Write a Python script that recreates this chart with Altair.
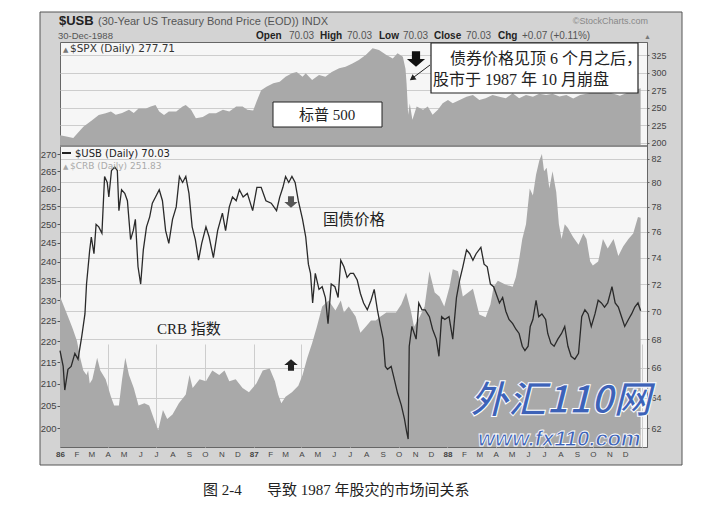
import pandas as pd
import altair as alt

# ---------------------------------------------------------------
# values (1986 - 1988)
# ---------------------------------------------------------------

# S&P 500, top panel (area)
spx_dates = ['1986-01-01', '1986-01-13', '1986-01-26', '1986-02-14', '1986-03-03', '1986-03-15',
             '1986-03-28', '1986-04-07', '1986-04-16', '1986-04-28', '1986-05-11', '1986-05-20',
             '1986-05-29', '1986-06-12', '1986-06-21', '1986-06-30', '1986-07-07', '1986-07-16',
             '1986-07-25', '1986-08-08', '1986-08-20', '1986-08-26', '1986-09-05', '1986-09-14',
             '1986-09-27', '1986-10-09', '1986-10-22', '1986-11-04', '1986-11-16', '1986-11-29',
             '1986-12-11', '1986-12-20', '1986-12-31', '1987-01-06', '1987-01-15', '1987-01-25',
             '1987-02-07', '1987-02-19', '1987-03-02', '1987-03-14', '1987-03-23', '1987-04-03',
             '1987-04-09', '1987-04-21', '1987-05-04', '1987-05-16', '1987-05-28', '1987-06-11',
             '1987-06-23', '1987-07-06', '1987-07-18', '1987-07-31', '1987-08-13', '1987-08-25',
             '1987-09-08', '1987-09-20', '1987-09-29', '1987-10-09', '1987-10-14', '1987-10-16',
             '1987-10-19', '1987-10-22', '1987-10-27', '1987-11-04', '1987-11-16', '1987-11-25',
             '1987-12-04', '1987-12-14', '1987-12-23', '1988-01-02', '1988-01-11', '1988-01-24',
             '1988-02-06', '1988-02-18', '1988-03-01', '1988-03-13', '1988-03-26', '1988-04-08',
             '1988-04-20', '1988-05-03', '1988-05-15', '1988-05-28', '1988-06-10', '1988-06-22',
             '1988-07-05', '1988-07-17', '1988-07-30', '1988-08-12', '1988-08-25', '1988-09-07',
             '1988-09-19', '1988-10-01', '1988-10-14', '1988-10-26', '1988-11-09', '1988-11-21',
             '1988-12-04', '1988-12-16', '1988-12-30']
spx_close = [211, 209, 207, 223, 232.7, 239.8,
             242, 244.5, 240, 242.6, 247, 242.6,
             249, 249, 251.6, 254, 244.5, 239.8,
             244.5, 244.5, 251.6, 254, 247, 235,
             237, 242, 242, 247, 244.5, 251.6,
             251.6, 247, 246, 258, 275, 280,
             285, 287, 294, 299, 301, 294,
             299, 289.5, 296.6, 294, 301, 306,
             308.4, 313, 318, 325, 334.5, 332,
             325, 320, 327.4, 322.6, 305, 285,
             240, 256, 233, 251.6, 247, 251.6,
             240, 247, 256.4, 261, 256.4, 261,
             265.8, 268, 261, 263.5, 268, 265.8,
             263.5, 270.6, 263.5, 268, 265.8, 270,
             268, 270, 266, 268, 263, 268,
             270, 272, 275, 273, 270, 267,
             271, 274, 277.7]

# CRB index, bottom panel (area, left log axis)
crb_dates = ['1986-01-01', '1986-01-10', '1986-01-19', '1986-01-25', '1986-02-02', '1986-02-08',
             '1986-02-14', '1986-02-20', '1986-02-23', '1986-02-26', '1986-03-03', '1986-03-12',
             '1986-03-18', '1986-03-28', '1986-04-07', '1986-04-13', '1986-04-22', '1986-04-28',
             '1986-05-04', '1986-05-11', '1986-05-20', '1986-05-29', '1986-06-09', '1986-06-18',
             '1986-06-27', '1986-07-05', '1986-07-14', '1986-07-22', '1986-08-01', '1986-08-13',
             '1986-08-26', '1986-09-02', '1986-09-08', '1986-09-21', '1986-10-03', '1986-10-15',
             '1986-10-28', '1986-11-07', '1986-11-16', '1986-11-28', '1986-12-11', '1986-12-23',
             '1987-01-06', '1987-01-18', '1987-01-31', '1987-02-10', '1987-02-16', '1987-02-22',
             '1987-03-02', '1987-03-14', '1987-03-26', '1987-04-03', '1987-04-12', '1987-04-21',
             '1987-04-30', '1987-05-10', '1987-05-22', '1987-06-04', '1987-06-14', '1987-06-20',
             '1987-06-29', '1987-07-12', '1987-07-21', '1987-07-31', '1987-08-10', '1987-08-19',
             '1987-08-28', '1987-09-08', '1987-09-17', '1987-09-26', '1987-10-06', '1987-10-15',
             '1987-10-24', '1987-10-30', '1987-11-10', '1987-11-19', '1987-11-28', '1987-12-08',
             '1987-12-17', '1987-12-26', '1988-01-05', '1988-01-11', '1988-01-21', '1988-01-30',
             '1988-02-09', '1988-02-18', '1988-03-01', '1988-03-13', '1988-03-22', '1988-03-28',
             '1988-04-05', '1988-04-20', '1988-05-03', '1988-05-09', '1988-05-15', '1988-05-21',
             '1988-05-28', '1988-06-04', '1988-06-10', '1988-06-16', '1988-06-22', '1988-06-27',
             '1988-07-01', '1988-07-06', '1988-07-11', '1988-07-17', '1988-07-24', '1988-07-29',
             '1988-08-03', '1988-08-09', '1988-08-15', '1988-08-25', '1988-09-04', '1988-09-13',
             '1988-09-19', '1988-09-26', '1988-10-01', '1988-10-11', '1988-10-20', '1988-10-29',
             '1988-11-09', '1988-11-18', '1988-11-27', '1988-12-07', '1988-12-16', '1988-12-25',
             '1988-12-30']
crb_close = [231, 228, 225, 223, 220, 216,
             213, 212, 213, 210, 211, 216,
             213, 211, 207, 205, 205, 211,
             216, 212, 209, 205, 205.5, 205,
             202, 199.5, 204, 202, 203, 205.5,
             207.5, 212, 209, 211, 210.5, 213,
             212, 213, 210.5, 211, 209, 208,
             210, 213, 213.5, 210.5, 207.5, 205.5,
             207, 208, 209.5, 212, 216, 219.5,
             223.5, 228.5, 230, 227.5, 230, 227,
             228.5, 226, 222, 223.5, 225, 225,
             226, 227, 227, 227, 229, 232,
             227.5, 223.5, 226, 228.5, 237.5, 232,
             231, 228.5, 233.5, 238, 237.5, 231,
             232, 233, 226.5, 225.8, 229, 233.5,
             235, 234, 233.5, 236, 240.5, 246,
             250, 260, 258, 264, 268, 270,
             265, 266, 260, 265, 259, 250,
             246, 250, 249, 246.5, 244.5, 247.5,
             246, 240, 239, 240, 246, 243.5,
             246, 241.5, 244, 246, 247.5, 252,
             251.8]

# 30-year T-bond price, bottom panel (line, right log axis)
usb_dates = ['1986-01-01', '1986-01-07', '1986-01-10', '1986-01-16', '1986-01-22', '1986-01-29',
             '1986-02-04', '1986-02-11', '1986-02-17', '1986-02-20', '1986-02-26', '1986-03-01',
             '1986-03-06', '1986-03-10', '1986-03-15', '1986-03-21', '1986-03-26', '1986-03-31',
             '1986-04-03', '1986-04-08', '1986-04-14', '1986-04-19', '1986-04-22', '1986-04-27',
             '1986-05-03', '1986-05-08', '1986-05-14', '1986-05-19', '1986-05-23', '1986-05-28',
             '1986-06-02', '1986-06-07', '1986-06-13', '1986-06-19', '1986-06-24', '1986-06-30',
             '1986-07-07', '1986-07-13', '1986-07-19', '1986-07-25', '1986-08-01', '1986-08-08',
             '1986-08-14', '1986-08-20', '1986-08-26', '1986-09-01', '1986-09-07', '1986-09-13',
             '1986-09-19', '1986-09-25', '1986-10-03', '1986-10-09', '1986-10-17', '1986-10-25',
             '1986-11-03', '1986-11-09', '1986-11-16', '1986-11-22', '1986-11-29', '1986-12-05',
             '1986-12-12', '1986-12-20', '1986-12-30', '1987-01-07', '1987-01-15', '1987-01-24',
             '1987-02-03', '1987-02-13', '1987-02-19', '1987-02-25', '1987-03-02', '1987-03-08',
             '1987-03-14', '1987-03-20', '1987-03-26', '1987-04-03', '1987-04-09', '1987-04-14',
             '1987-04-18', '1987-04-22', '1987-04-27', '1987-05-04', '1987-05-10', '1987-05-16',
             '1987-05-21', '1987-05-27', '1987-06-03', '1987-06-09', '1987-06-14', '1987-06-20',
             '1987-06-26', '1987-07-02', '1987-07-08', '1987-07-15', '1987-07-21', '1987-07-27',
             '1987-08-03', '1987-08-10', '1987-08-16', '1987-08-22', '1987-08-28', '1987-09-02',
             '1987-09-06', '1987-09-10', '1987-09-17', '1987-09-23', '1987-09-29', '1987-10-06',
             '1987-10-12', '1987-10-16', '1987-10-19', '1987-10-21', '1987-10-26', '1987-11-03',
             '1987-11-08', '1987-11-14', '1987-11-20', '1987-11-28', '1987-12-04', '1987-12-11',
             '1987-12-16', '1987-12-21', '1987-12-27', '1988-01-04', '1988-01-11', '1988-01-18',
             '1988-01-24', '1988-01-30', '1988-02-06', '1988-02-12', '1988-02-18', '1988-02-24',
             '1988-03-04', '1988-03-10', '1988-03-16', '1988-03-22', '1988-03-28', '1988-04-08',
             '1988-04-14', '1988-04-20', '1988-04-26', '1988-05-03', '1988-05-09', '1988-05-15',
             '1988-05-21', '1988-05-26', '1988-06-01', '1988-06-05', '1988-06-10', '1988-06-16',
             '1988-06-21', '1988-06-27', '1988-07-04', '1988-07-08', '1988-07-14', '1988-07-20',
             '1988-07-27', '1988-08-03', '1988-08-09', '1988-08-15', '1988-08-21', '1988-08-28',
             '1988-09-04', '1988-09-10', '1988-09-16', '1988-09-22', '1988-09-28', '1988-10-05',
             '1988-10-11', '1988-10-17', '1988-10-23', '1988-10-29', '1988-11-06', '1988-11-12',
             '1988-11-18', '1988-11-24', '1988-11-30', '1988-12-07', '1988-12-13', '1988-12-19',
             '1988-12-25', '1988-12-30']
usb_close = [67.2, 66.1, 64.5, 65.9, 66.1, 67.0,
             66.6, 68.2, 69.8, 72.0, 74.6, 75.6,
             74.3, 76.6, 76.4, 75.9, 80.5, 80.0,
             78.8, 81.0, 81.3, 81.0, 77.7, 79.4,
             79.1, 78.5, 75.4, 76.1, 77.0, 73.3,
             72.0, 74.6, 76.4, 77.2, 78.3, 78.8,
             79.4, 78.5, 76.1, 75.1, 77.0, 78.0,
             80.5, 80.0, 80.5, 79.1, 76.4, 75.4,
             73.8, 75.1, 76.4, 75.6, 74.0, 76.1,
             77.5, 76.1, 78.0, 78.8, 78.5, 79.4,
             78.8, 79.1, 77.7, 79.6, 79.6, 78.5,
             78.3, 77.7, 78.8, 79.6, 80.5, 80.0,
             80.5, 80.0, 78.5, 77.0, 75.6, 73.5,
             72.8, 70.6, 72.8, 71.6, 71.8, 71.0,
             69.1, 72.0, 71.8, 71.0, 73.8, 73.3,
             72.5, 72.8, 72.8, 72.3, 71.3, 70.6,
             70.1, 70.8, 71.6, 70.1, 68.9, 68.0,
             66.1, 65.9, 66.1, 65.2, 64.3, 63.5,
             62.6, 61.8, 61.3, 67.5, 68.9, 68.0,
             70.6, 70.1, 70.1, 69.6, 68.7, 68.0,
             66.8, 69.6, 69.4, 69.6, 68.0, 71.0,
             72.3, 73.3, 74.6, 74.3, 73.8, 74.3,
             74.8, 73.5, 73.3, 72.0, 71.8, 70.6,
             71.0, 70.0, 69.4, 69.1, 68.7, 68.4,
             67.5, 67.2, 67.5, 68.9, 69.4, 70.8,
             69.6, 69.8, 69.4, 68.4, 67.7, 67.5,
             68.0, 68.4, 68.9, 67.5, 66.8, 66.6,
             67.0, 69.6, 70.1, 69.8, 68.9, 69.8,
             70.8, 70.6, 70.3, 70.6, 71.8, 70.6,
             70.3, 69.6, 68.9, 69.4, 69.8, 70.3,
             70.6, 70.03]

spx_ticks = [200, 225, 250, 275, 300, 325]
crb_ticks = [200, 205, 210, 215, 220, 225, 230, 235, 240, 245, 250, 255, 260, 265, 270]
usb_ticks = [62, 64, 66, 68, 70, 72, 74, 76, 78, 80, 82]

spx = pd.DataFrame({'date': spx_dates, 'close': spx_close})
crb = pd.DataFrame({'date': crb_dates, 'close': crb_close})
usb = pd.DataFrame({'date': usb_dates, 'close': usb_close})
blank = pd.DataFrame({'k': [0]})

# ---------------------------------------------------------------
# layout / style
# ---------------------------------------------------------------
W, H = 587, 405      # plot area of both panels together
TOP = 103            # bottom of the S&P panel
LOW = 105            # top of the bond / CRB panel

FRAME = '#d3d3d3'
PLOT = '#f6f6f6'
AREA = '#a9a9a9'
GRID = '#cdcdcd'
SANS = 'Liberation Sans'
LEG = 'DejaVu Sans'
CJK = "'Liberation Serif', 'Noto Sans CJK SC'"
ARROW = 'M-0.45,-0.85L0.45,-0.85L0.45,0L1,0L0,0.85L-1,0L-0.45,0Z'

x_axis = alt.Axis(
    title='', grid=True, gridColor=GRID,
    gridOpacity={'condition': {'test': 'utcmonth(datum.value) % 3 == 0', 'value': 1}, 'value': 0},
    tickCount={'interval': 'month', 'step': 1},
    labelExpr=("utcyear(datum.value) > 1988 ? '' : utcmonth(datum.value) == 0 ? "
               "utcFormat(datum.value, '%y') : slice(utcFormat(datum.value, '%b'), 0, 1)"),
    labelFontWeight={'condition': {'test': 'utcmonth(datum.value) == 0', 'value': 'bold'}, 'value': 'normal'},
    labelFont=SANS, labelFontSize=8, labelColor='#444', labelPadding=3,
    ticks=False, domain=False, labelOverlap=False, labelBound=False, labelFlush=False)

x_enc = alt.X('date:T', axis=x_axis,
              scale=alt.Scale(type='utc', nice=False,
                              domain=[alt.DateTime(year=1986, month=1, date=1, utc=True),
                                      alt.DateTime(year=1989, month=1, date=11, utc=True)]))

spx_layer = alt.Chart(spx).mark_area(color=AREA).encode(
    x=x_enc,
    y=alt.Y('close:Q', scale=alt.Scale(domain=[197, 343.5], range=[TOP, 0], zero=False, nice=False),
            axis=alt.Axis(title='', orient='right', values=spx_ticks, grid=True, gridColor=GRID,
                          labelFont=SANS, labelFontSize=9, labelColor='#444', labelPadding=2,
                          tickSize=2, tickColor='#666', domainColor='#666')),
    y2=alt.datum(197),
)

crb_layer = alt.Chart(crb).mark_area(color=AREA).encode(
    x=x_enc,
    y=alt.Y('close:Q', scale=alt.Scale(type='log', domain=[195.9, 272.1], range=[H, LOW], nice=False),
            axis=alt.Axis(title='', orient='left', values=crb_ticks, grid=False, format='d',
                          labelFont=SANS, labelFontSize=9.5, labelColor='#444', labelPadding=1,
                          tickSize=3, tickColor='#555', domainColor='#666')),
    y2=alt.datum(195.9),
)

usb_layer = alt.Chart(usb).mark_line(color='#2a2a2a', strokeWidth=1.3).encode(
    x=x_enc,
    y=alt.Y('close:Q', scale=alt.Scale(type='log', domain=[60.8, 83.0], range=[H, LOW], nice=False),
            axis=alt.Axis(title='', orient='right', values=usb_ticks, grid=True, gridColor=GRID,
                          format='d', labelFont=SANS, labelFontSize=9, labelColor='#444',
                          labelPadding=2, tickSize=2, tickColor='#666', domainColor='#666')),
)


def note(text, x, y, size=10, weight='normal', color='#222', font=SANS, align='left', **kw):
    return alt.Chart(blank).mark_text(
        text=text, fontSize=size, fontWeight=weight, color=color, font=font,
        align=align, baseline='alphabetic', **kw
    ).encode(x=alt.value(x), y=alt.value(y))


def box(x, x2, y, y2, **kw):
    return alt.Chart(blank).mark_rect(**kw).encode(
        x=alt.value(x), x2=alt.value(x2), y=alt.value(y), y2=alt.value(y2))


def arrow(x, y, size, color, angle=0):
    return alt.Chart(blank).mark_point(
        shape=ARROW, filled=True, size=size, color=color, opacity=1, angle=angle
    ).encode(x=alt.value(x), y=alt.value(y))


# white page outside the StockCharts frame
page = [
    box(-52, -20, -34, 460, fill='white'),
    box(622, 650, -34, 460, fill='white'),
    box(-52, 650, -34, -30, fill='white'),
    box(-52, 650, 423, 460, fill='white'),
    box(-20, 622, -30, 423, fillOpacity=0, stroke='#555', strokeWidth=1),
    box(0, W, TOP, LOW, fill='#8c8c8c'),
]

header = [
    note('$USB', -1, -17, size=13, weight='bold', color='#222'),
    note('(30-Year US Treasury Bond Price (EOD))  INDX', 38, -17, size=11, color='#555'),
    note('30-Dec-1988', -2, -3, size=9.5, color='#555'),
    note('©StockCharts.com', 588, -18, size=9, color='#888', align='right'),
    note('Open', 196, -3, size=10, weight='bold'),
    note('70.03', 229, -3, size=10, color='#555'),
    note('High', 260, -3, size=10, weight='bold'),
    note('70.03', 287, -3, size=10, color='#555'),
    note('Low', 319, -3, size=10, weight='bold'),
    note('70.03', 343, -3, size=10, color='#555'),
    note('Close', 374, -3, size=10, weight='bold'),
    note('70.03', 406, -3, size=10, color='#555'),
    note('Chg', 438, -3, size=10, weight='bold'),
    note('+0.07 (+0.11%)', 462, -3, size=10, color='#555'),
    note('▲', 584, -3, size=7, color='#777'),
]

legends = [
    note('▲', 3, 10, size=7, color='#777', font=LEG),
    note('$SPX (Daily) 277.71', 10, 10, size=10.5, color='#333', font=LEG),
    alt.Chart(blank).mark_rule(color='#222', strokeWidth=2).encode(
        x=alt.value(2), x2=alt.value(11), y=alt.value(111)),
    note('$USB (Daily) 70.03', 15, 115, size=10, color='#222', font=LEG),
    note('▲', 3, 127, size=7, color='#aaa', font=LEG),
    note('$CRB (Daily) 251.83', 10, 127, size=9, color='#aaa', font=LEG),
]

callouts = [
    box(213, 322, 60, 85, fill='white', stroke='#222', strokeWidth=1),
    note('标普 500', 267, 78, size=15, font=CJK, align='center'),
    box(371, 578, 1, 51, fill='white', stroke='#222', strokeWidth=1.2),
    note('债券价格见顶 6 个月之后，', 390, 22, size=16, font=CJK),
    note('股市于 1987 年 10 月崩盘', 373, 43, size=16, font=CJK),
    arrow(356, 17, 330, '#111'),
    alt.Chart(blank).mark_rule(color='#222', strokeWidth=1).encode(
        x=alt.value(370), y=alt.value(23), x2=alt.value(354), y2=alt.value(35)),
    alt.Chart(blank).mark_point(shape='triangle', filled=True, size=45, color='#222',
                                opacity=1, angle=234).encode(x=alt.value(353), y=alt.value(36)),
    note('国债价格', 263, 183, size=15.5, font=CJK),
    arrow(231, 160, 180, '#555'),
    note('CRB 指数', 97, 292, size=15, font=CJK),
    arrow(231, 323, 180, '#222', angle=180),
]

footer = [
    note('外汇110网', 410, 371, size=38, weight='bold', color='#3d62b8', font='Noto Sans CJK SC',
         fontStyle='italic', stroke='white', strokeWidth=1),
    note('www.fx110.com', 418, 404, size=22, weight='bold', color='#3d62b8', font=SANS,
         fontStyle='italic', stroke='white', strokeWidth=0.8),
    note('图 2-4', 143, 453, size=15, color='#222', font=CJK),
    note('导致 1987 年股灾的市场间关系', 207, 453, size=15, color='#222', font=CJK),
]

chart = alt.layer(
    *page, spx_layer, crb_layer, usb_layer, *header, *legends, *callouts, *footer
).resolve_scale(
    y='independent'
).properties(
    width=W, height=H, background=FRAME,
    padding={'left': 52, 'top': 34, 'right': 61, 'bottom': 53},
    autosize=alt.AutoSizeParams(type='none'),
).configure_view(
    fill=PLOT, stroke='#666', strokeWidth=1
)

chart.save('out.html', embed_options={'renderer': 'svg', 'actions': False})
